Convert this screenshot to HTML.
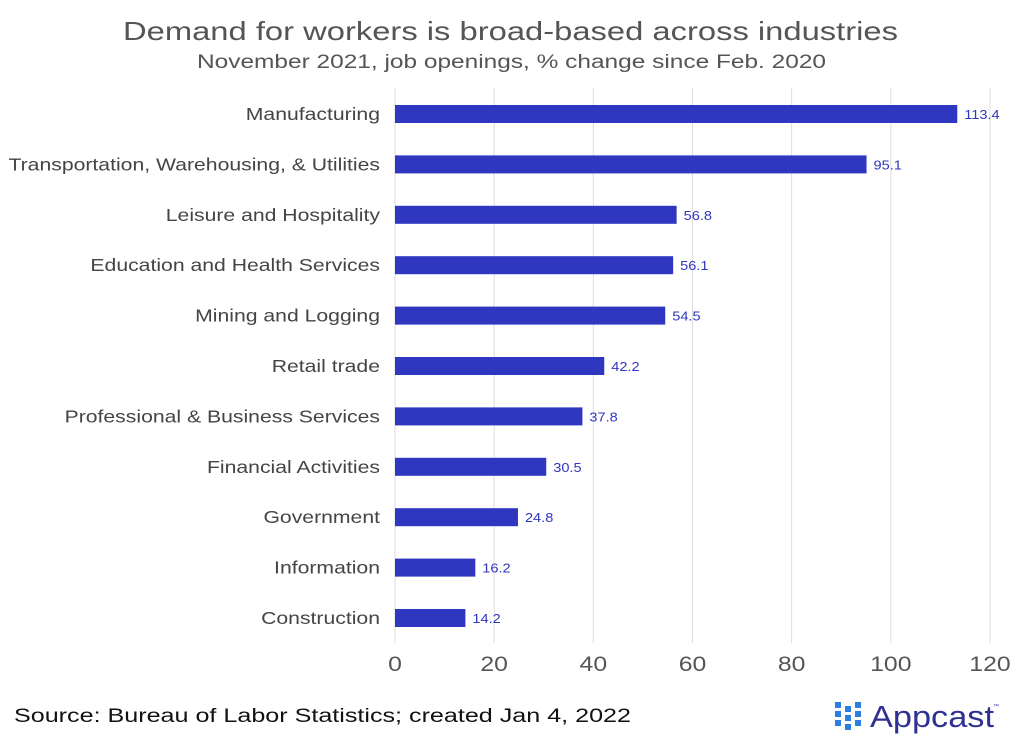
<!DOCTYPE html>
<html><head><meta charset="utf-8"><style>
body{margin:0;background:#fff;width:1024px;height:742px;overflow:hidden;font-family:"Liberation Sans",sans-serif;}
svg text{font-family:"Liberation Sans",sans-serif;}
</style></head><body>
<svg id="chart" width="1024" height="742" xmlns="http://www.w3.org/2000/svg">
<text x="123" y="40" font-size="26" fill="#555" textLength="775" lengthAdjust="spacingAndGlyphs">Demand for workers is broad-based across industries</text>
<text x="197" y="68" font-size="19" fill="#555" textLength="629" lengthAdjust="spacingAndGlyphs">November 2021, job openings, % change since Feb. 2020</text>
<g id="grid"></g><g id="bars"></g><g id="xticks"></g>
<text x="14" y="722" font-size="19" fill="#111" textLength="617" lengthAdjust="spacingAndGlyphs">Source: Bureau of Labor Statistics; created Jan 4, 2022</text>
<g>
<g fill="#2a7de1">
<rect x="835" y="702" width="6" height="6"/><rect x="835" y="711" width="6" height="6"/><rect x="835" y="720" width="6" height="6"/>
<rect x="845" y="706" width="6" height="6"/><rect x="845" y="715" width="6" height="6"/><rect x="845" y="724" width="6" height="6"/>
<rect x="855" y="702" width="6" height="6"/><rect x="855" y="711" width="6" height="6"/><rect x="855" y="720" width="6" height="6"/>
</g>
<text x="870" y="727" font-size="31" fill="#2e3192" textLength="124" lengthAdjust="spacingAndGlyphs">Appcast</text>
<text x="993" y="708" font-size="6" fill="#2e3192">™</text>
</g>
</svg>
<script>
const categories=["Manufacturing","Transportation, Warehousing, & Utilities","Leisure and Hospitality","Education and Health Services","Mining and Logging","Retail trade","Professional & Business Services","Financial Activities","Government","Information","Construction"];
const values=[113.4,95.1,56.8,56.1,54.5,42.2,37.8,30.5,24.8,16.2,14.2];
const ticks=[0,20,40,60,80,100,120];
const NS="http://www.w3.org/2000/svg";
const x0=395,x1=990,vmax=120;
function xs(v){return x0+(v/vmax)*(x1-x0);}
function yc(i){return 114+i*50.4;}
function mk(t,a,p){const e=document.createElementNS(NS,t);for(const k in a)e.setAttribute(k,a[k]);p.appendChild(e);return e;}
function widen(el,f){const w=el.getComputedTextLength();el.setAttribute('textLength',w*f);el.setAttribute('lengthAdjust','spacingAndGlyphs');}
const grid=document.getElementById('grid'),bars=document.getElementById('bars'),xt=document.getElementById('xticks');
ticks.forEach(t=>{
 const l=mk('line',{x1:xs(t),x2:xs(t),y1:88,y2:643,stroke:'#ddd','stroke-width':1},grid);
 
 
 const tx=mk('text',{x:xs(t),y:671,'text-anchor':'middle','font-size':21,fill:'#555'},xt);
 tx.textContent=t;
 
 
 widen(tx,1.18);
});
categories.forEach((c,i)=>{
 const r=mk('rect',{x:x0,y:yc(i)-9,width:xs(values[i])-x0,height:18,fill:'#2f36bf'},bars);
 
 
 const lb=mk('text',{x:380,y:yc(i)+6,'text-anchor':'end','font-size':17.5,fill:'#444'},bars);
 lb.textContent=c;
 
 
 widen(lb,1.21);
 const vl=mk('text',{x:xs(values[i])+7,y:yc(i)+5,'font-size':13,fill:'#2f36bf'},bars);
 vl.textContent=values[i];
 
 
 widen(vl,1.12);
});
</script>
</body></html>
